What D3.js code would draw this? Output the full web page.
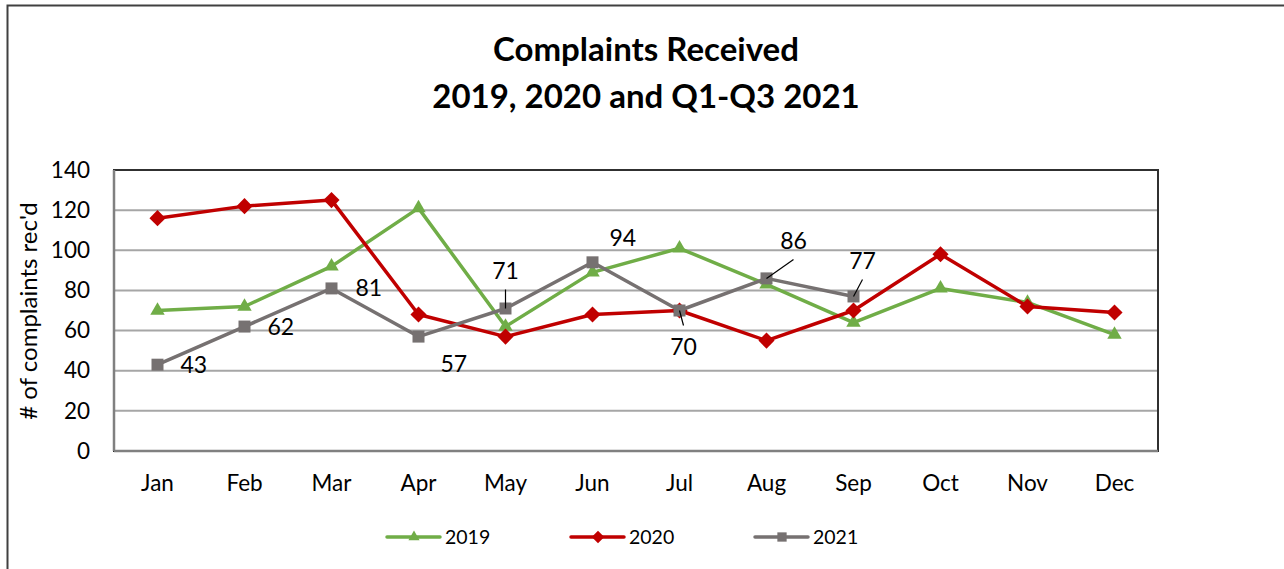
<!DOCTYPE html>
<html>
<head>
<meta charset="utf-8">
<script src="https://cdn.jsdelivr.net/npm/d3@7"></script>
<style>
	body { margin: 0; background: #fff; }
	svg { display: block; font-family: Lato, "Open Sans", sans-serif; }
</style>
</head>
<body>
<div id="chart"></div>
<script>
var months = ['Jan', 'Feb', 'Mar', 'Apr', 'May', 'Jun', 'Jul', 'Aug', 'Sep', 'Oct', 'Nov', 'Dec'];
var values2019 = [70, 72, 92, 121, 62, 89, 101, 83, 64, 81, 74, 58];
var values2020 = [116, 122, 125, 68, 57, 68, 70, 55, 70, 98, 72, 69];
var values2021 = [43, 62, 81, 57, 71, 94, 70, 86, 77];
var yTicks = [0, 20, 40, 60, 80, 100, 120, 140];
var titleLines = ['Complaints Received', '2019, 2020 and Q1-Q3 2021'];

// label offset from its point (label centre for leader labels, left edge otherwise)
var labelPlacement = [
	{ dx: 23, dy: 0, leader: false },
	{ dx: 23, dy: 0, leader: false },
	{ dx: 24, dy: -1, leader: false },
	{ dx: 22, dy: 27, leader: false },
	{ dx: 0, dy: -38, leader: true },
	{ dx: 17, dy: -25, leader: false },
	{ dx: 4, dy: 36, leader: true },
	{ dx: 27, dy: -38, leader: true },
	{ dx: 9, dy: -36, leader: true }
];

var diamond = {
	draw: function (ctx, size) {
		var r = Math.sqrt(size / 2);
		ctx.moveTo(0, -r); ctx.lineTo(r, 0); ctx.lineTo(0, r); ctx.lineTo(-r, 0); ctx.closePath();
	}
};

var series = [
	{ name: '2019', values: values2019, color: '#70ad47', symbol: d3.symbolTriangle, size: 90 },
	{ name: '2020', values: values2020, color: '#c00000', symbol: diamond, size: 130 },
	{ name: '2021', values: values2021, color: '#767171', symbol: d3.symbolSquare, size: 144 }
];

var width = 1284, height = 569;
var margin = { top: 170, right: 126, bottom: 118, left: 114 };
var innerW = width - margin.left - margin.right,
	innerH = height - margin.top - margin.bottom;

var svg = d3.select('#chart').append('svg')
	.attr('width', width)
	.attr('height', height);

// outer chart frame
svg.append('path')
	.attr('d', 'M7.5,' + height + 'V5.5H' + width)
	.attr('fill', 'none')
	.attr('stroke', '#404040')
	.attr('stroke-width', 2);

// title
svg.selectAll('.title')
	.data(titleLines).enter()
	.append('text')
	.attr('class', 'title')
	.attr('x', 646)
	.attr('y', function (d, i) { return 61 + i * 47; })
	.attr('text-anchor', 'middle')
	.attr('font-size', 33)
	.attr('font-weight', 'bold')
	.text(function (d) { return d; });

var g = svg.append('g')
	.attr('transform', 'translate(' + margin.left + ',' + margin.top + ')');

var x = d3.scaleBand().domain(months).range([0, innerW]);
var y = d3.scaleLinear().domain([0, 140]).range([innerH, 0]);
var xPos = function (i) { return x(months[i]) + x.bandwidth() / 2; };

// gridlines
g.selectAll('.grid')
	.data(yTicks.slice(1)).enter()
	.append('line')
	.attr('x1', 0).attr('x2', innerW)
	.attr('y1', function (d) { return y(d); })
	.attr('y2', function (d) { return y(d); })
	.attr('stroke', '#a6a6a6')
	.attr('stroke-width', 2);

// plot frame
g.append('rect')
	.attr('width', innerW).attr('height', innerH)
	.attr('fill', 'none')
	.attr('stroke', '#303030')
	.attr('stroke-width', 2);

g.append('line')
	.attr('x1', 0).attr('x2', 0).attr('y1', 0).attr('y2', innerH)
	.attr('stroke', '#808080').attr('stroke-width', 2.5);
g.append('line')
	.attr('x1', 0).attr('x2', innerW).attr('y1', innerH).attr('y2', innerH)
	.attr('stroke', '#808080').attr('stroke-width', 2.5);

// axes
var yAxis = g.append('g')
	.call(d3.axisLeft(y).tickValues(yTicks).tickSize(0).tickPadding(24));
var xAxis = g.append('g')
	.attr('transform', 'translate(0,' + innerH + ')')
	.call(d3.axisBottom(x).tickSize(0).tickPadding(24));
[yAxis, xAxis].forEach(function (ax) {
	ax.select('.domain').remove();
	ax.selectAll('text')
		.attr('font-size', 22.5)
		.attr('font-family', 'Lato, "Open Sans", sans-serif')
		.attr('fill', '#000');
});

svg.append('text')
	.attr('transform', 'translate(37,' + 311 + ') rotate(-90)')
	.attr('text-anchor', 'middle')
	.attr('font-size', 24)
	.text("# of complaints rec'd");

// lines and markers
var line = d3.line()
	.x(function (d, i) { return xPos(i); })
	.y(function (d) { return y(d); });

series.forEach(function (s) {
	g.append('path')
		.datum(s.values)
		.attr('d', line)
		.attr('fill', 'none')
		.attr('stroke', s.color)
		.attr('stroke-width', 3.5)
		.attr('stroke-linejoin', 'round');

	g.selectAll('.pt-' + s.name)
		.data(s.values).enter()
		.append('path')
		.attr('d', d3.symbol().type(s.symbol).size(s.size))
		.attr('transform', function (d, i) { return 'translate(' + xPos(i) + ',' + y(d) + ')'; })
		.attr('fill', s.color);
});

// data labels for 2021
values2021.forEach(function (v, i) {
	var p = labelPlacement[i];
	var px = xPos(i), py = y(v);
	if (p.leader) {
		g.append('line')
			.attr('x1', px)
			.attr('y1', py)
			.attr('x2', px + p.dx)
			.attr('y2', py + p.dy + (p.dy < 0 ? 19 : -21))
			.attr('stroke', '#000')
			.attr('stroke-width', 1.2);
	}
	g.append('text')
		.attr('x', px + p.dx)
		.attr('y', py + p.dy)
		.attr('text-anchor', p.leader ? 'middle' : 'start')
		.attr('dy', '0.36em')
		.attr('font-size', 23)
		.text(v);
});

// legend
var legend = svg.append('g').attr('transform', 'translate(0,537)');
var legendX = [387, 571, 755];
series.forEach(function (s, i) {
	var lg = legend.append('g').attr('transform', 'translate(' + legendX[i] + ',0)');
	lg.append('line')
		.attr('x1', 0).attr('x2', 53)
		.attr('stroke', s.color).attr('stroke-width', 3.5)
		.attr('stroke-linecap', 'round');
	lg.append('path')
		.attr('d', d3.symbol().type(s.symbol).size(s.size * 0.6))
		.attr('transform', 'translate(27,0)')
		.attr('fill', s.color);
	lg.append('text')
		.attr('x', 58).attr('dy', '0.36em')
		.attr('font-size', 19.5)
		.text(s.name);
});
</script>
</body>
</html>
